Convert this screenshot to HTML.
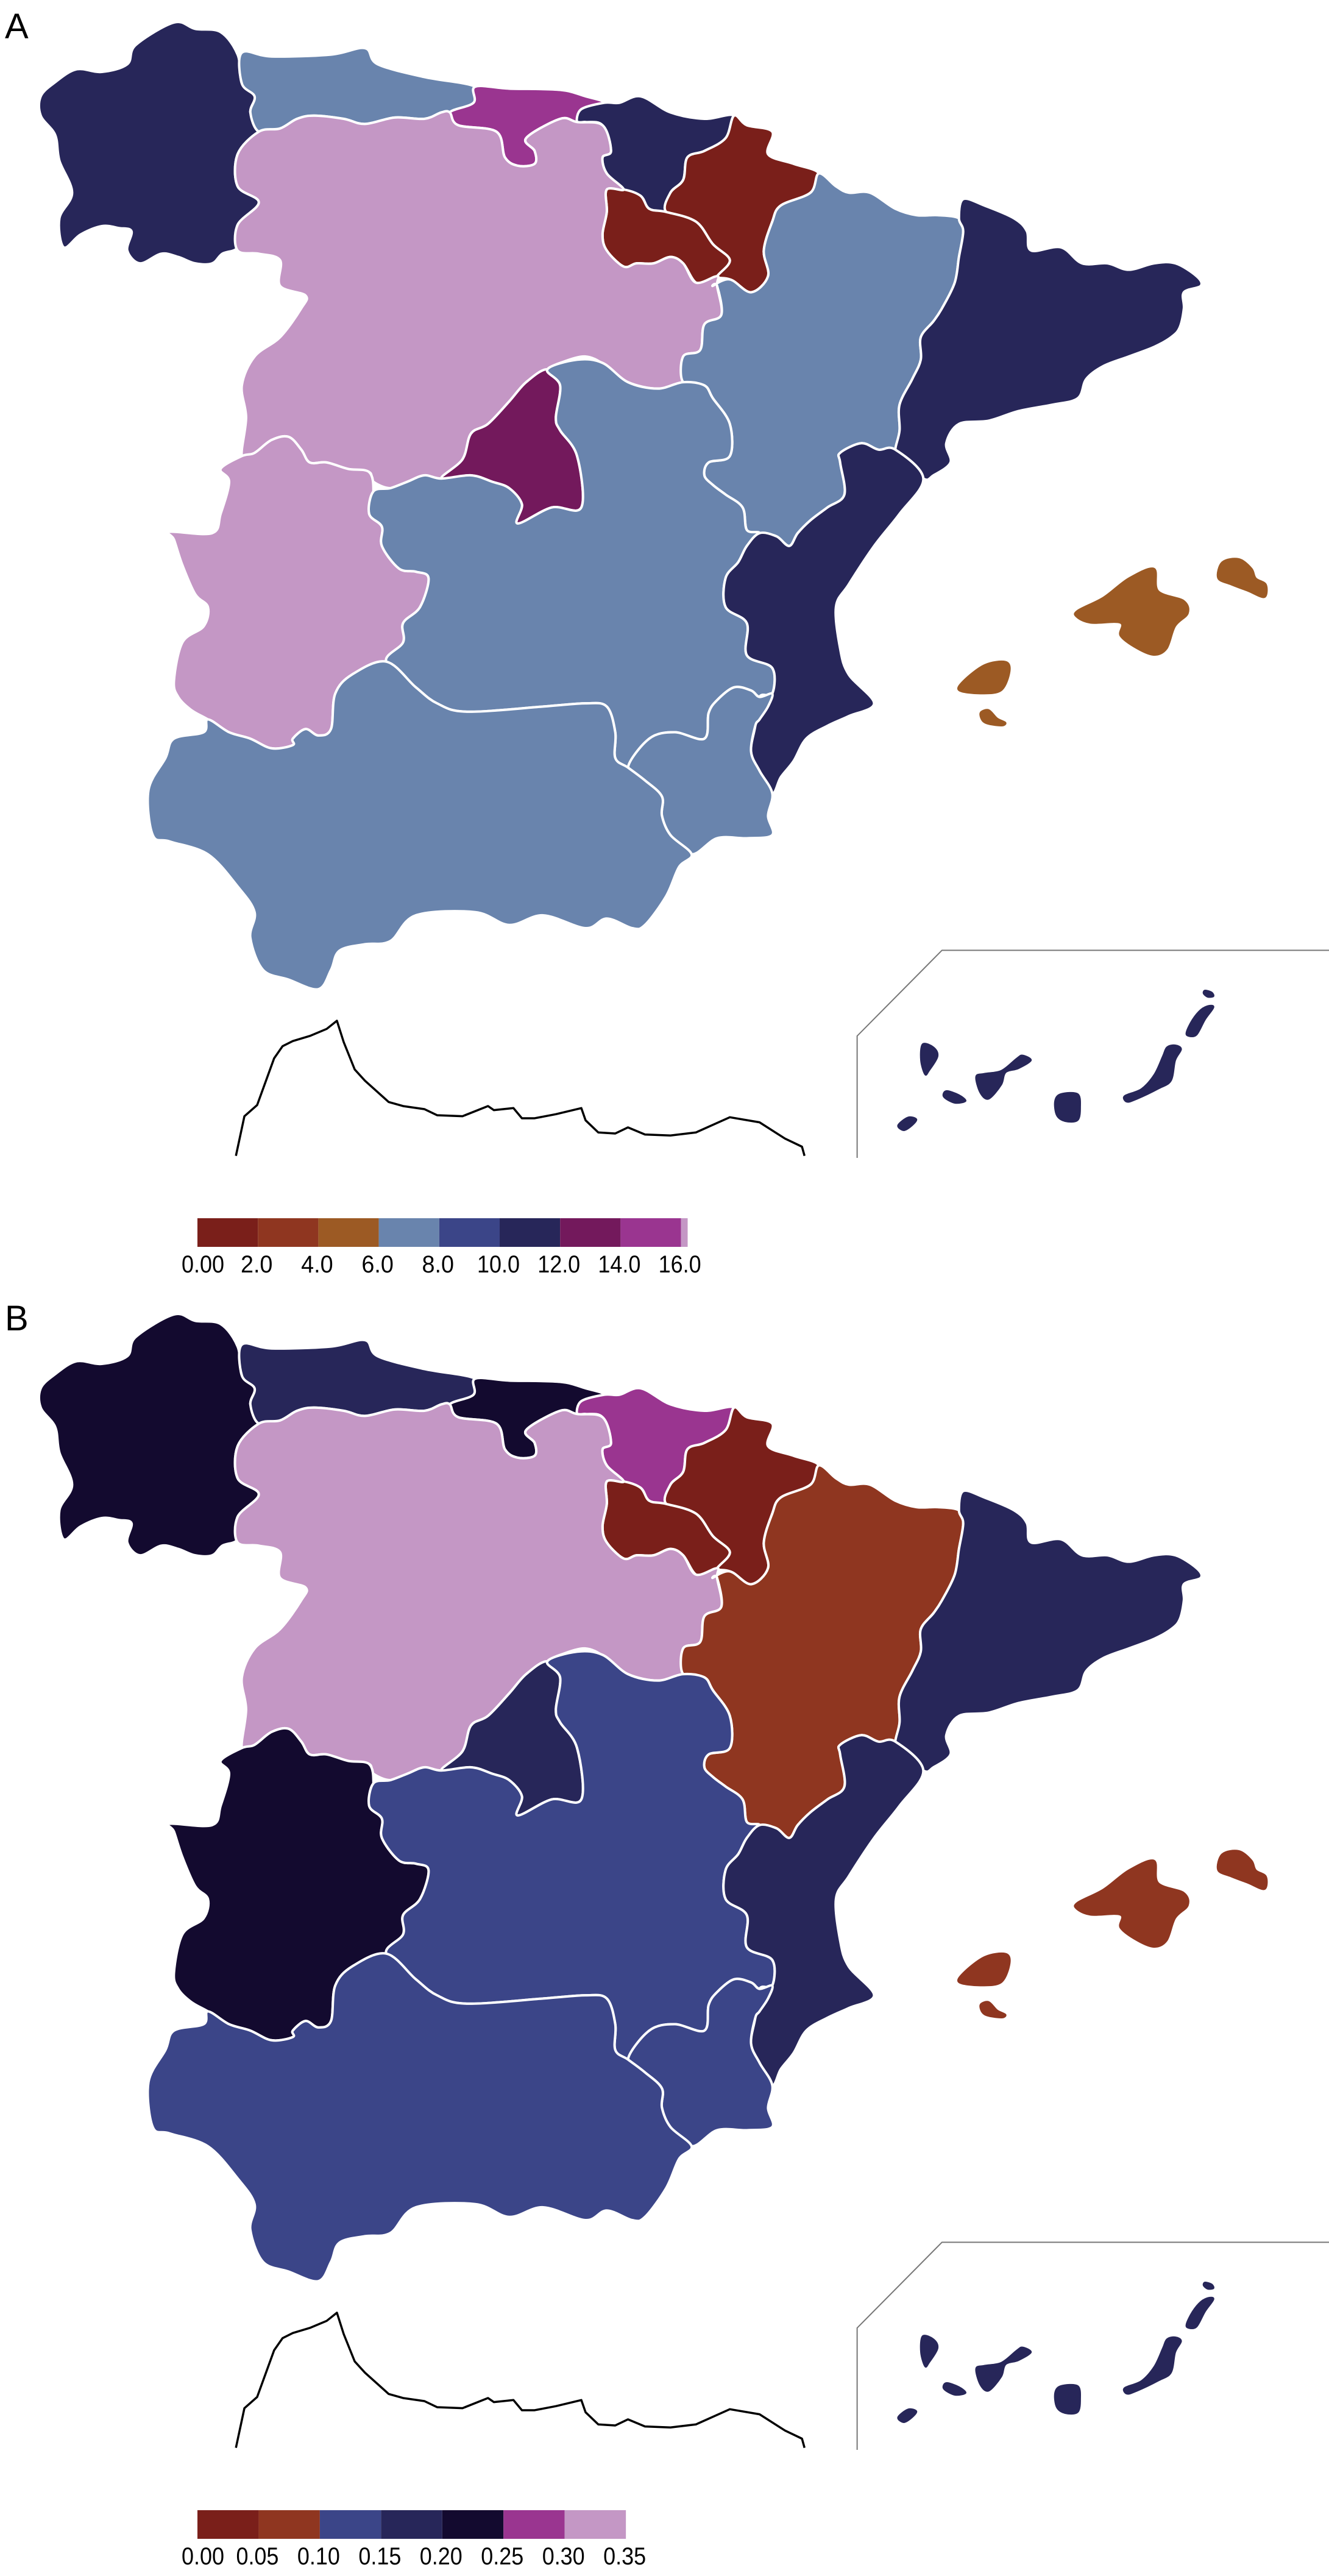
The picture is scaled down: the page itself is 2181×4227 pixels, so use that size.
<!DOCTYPE html>
<html><head><meta charset="utf-8"><style>
html,body{margin:0;padding:0;background:#fff;}
svg{display:block;}
text{font-family:"Liberation Sans",Arial,sans-serif;}
</style></head><body>
<svg id="fig" xmlns="http://www.w3.org/2000/svg" width="2181" height="4227" viewBox="0 0 2181 4227"></svg>
<script>
const regions=["galicia","asturias","cantabria","basque-country","navarra","la-rioja","castilla-y-leon","aragon","catalonia","madrid","extremadura","castilla-la-mancha","valencia","murcia","andalucia","balearic-islands","canary-islands"];
const valuesA=[11,7,15,11,1,1,16.5,7,11,13,16.5,7,11,7,7,5,11];
const valuesB=[0.22,0.17,0.22,0.28,0.02,0.02,0.33,0.07,0.17,0.17,0.22,0.12,0.17,0.12,0.12,0.07,0.17];
const breaksA=[0,2,4,6,8,10,12,14,16,16.22];
const colorsA=["#7a1f1a","#8f3620","#9c5a24","#6984ad","#3b4588","#272659","#73195c","#9a3590","#c497c5"];
const tickLabelsA=["0.00","2.0","4.0","6.0","8.0","10.0","12.0","14.0","16.0"];
const breaksB=[0,0.05,0.10,0.15,0.20,0.25,0.30,0.35];
const colorsB=["#7a1f1a","#8f3620","#3b4588","#272659","#130a2f","#9a3590","#c497c5"];
const tickLabelsB=["0.00","0.05","0.10","0.15","0.20","0.25","0.30","0.35"];

const shapes={
galicia:[48,150,65,128,90,108,120,112,150,100,160,70,205,35,230,45,260,50,280,85,285,130,300,150,295,175,305,205,280,240,280,290,305,315,280,350,280,385,262,395,250,410,230,410,210,400,190,395,165,410,150,390,155,360,140,355,120,352,95,365,75,385,70,340,85,300,70,250,65,210,48,180],
asturias:[285,82,320,88,390,85,430,75,445,100,500,120,560,135,558,160,530,175,520,175,500,185,465,183,430,193,405,185,370,180,350,185,330,200,305,205,295,175,300,150,285,130],
cantabria:[560,135,600,138,660,140,690,150,712,160,685,170,680,190,660,185,620,215,630,235,630,255,610,258,595,245,585,205,540,195,530,175,558,160],
"basque-country":[712,160,730,160,755,150,790,175,830,185,865,180,855,215,830,235,810,245,805,280,790,300,785,330,765,325,755,305,735,295,715,270,710,245,720,235,710,195,690,190,680,190,685,170],
navarra:[865,180,880,195,910,205,905,240,935,255,965,270,955,300,920,320,910,345,900,390,905,430,885,455,860,435,845,430,860,405,840,380,820,345,785,330,790,300,805,280,810,245,830,235,855,215],
"la-rioja":[715,295,735,295,755,305,765,325,785,330,820,345,840,380,860,405,845,430,840,445,820,440,805,410,790,400,770,410,750,410,735,415,715,390,710,365,715,330],
"castilla-y-leon":[305,205,330,200,350,185,370,180,405,185,430,193,465,183,500,185,520,175,530,175,540,195,585,205,595,245,610,258,630,255,630,235,620,215,660,185,680,190,710,195,720,235,710,245,715,270,735,295,715,295,715,330,710,365,715,390,735,415,750,410,770,410,790,400,805,410,820,440,845,430,845,445,850,490,830,505,825,545,805,555,805,595,775,605,740,595,715,570,690,555,660,565,645,575,620,595,600,625,575,660,555,675,545,715,520,745,500,740,480,750,460,760,440,750,435,735,410,730,385,720,365,720,355,700,340,680,320,685,300,705,285,710,290,650,285,600,300,555,330,525,355,480,360,460,330,445,330,405,305,395,280,390,280,350,305,315,280,290,280,240],
aragon:[965,270,985,290,1000,300,1025,300,1055,325,1080,335,1105,335,1130,340,1135,360,1130,400,1125,440,1110,480,1100,500,1085,525,1085,560,1075,590,1060,630,1060,670,1055,700,1035,700,1015,690,990,705,990,720,995,770,975,790,955,810,940,830,930,850,915,835,895,830,880,825,875,790,855,770,840,755,830,740,835,720,860,710,860,660,840,620,830,600,805,595,805,555,825,545,830,505,850,490,845,445,840,445,860,435,885,455,905,430,900,390,910,345,920,320,955,300],
catalonia:[1130,340,1135,310,1160,320,1195,340,1210,360,1215,390,1250,385,1275,410,1305,410,1330,420,1360,410,1385,410,1410,430,1415,445,1395,455,1395,480,1390,510,1380,525,1360,540,1330,555,1300,570,1280,590,1270,620,1240,630,1200,640,1165,655,1130,660,1115,690,1120,720,1100,740,1088,745,1060,710,1055,700,1060,670,1060,630,1075,590,1085,560,1085,525,1100,500,1110,480,1125,440,1130,400,1135,360],
madrid:[645,575,660,600,655,650,660,670,680,710,685,790,650,790,610,815,615,785,600,760,580,750,555,740,520,745,545,715,555,675,575,660,600,625,620,595],
extremadura:[285,710,300,705,320,685,340,680,355,700,365,720,385,720,410,730,435,735,440,765,435,800,450,820,450,850,470,885,490,890,505,900,495,945,475,970,475,1000,455,1030,415,1050,395,1080,390,1135,375,1145,360,1135,345,1150,345,1160,320,1165,295,1150,270,1140,245,1120,225,1105,210,1085,205,1060,215,1000,240,975,245,945,230,925,215,880,205,840,200,828,250,830,260,800,270,750,260,730],
"castilla-la-mancha":[645,575,680,560,710,565,740,595,775,605,805,595,830,600,840,620,860,660,860,710,835,720,830,740,840,755,855,770,875,790,880,825,895,830,880,850,870,875,855,900,855,945,880,970,880,1020,910,1040,910,1080,895,1085,885,1075,865,1070,845,1090,835,1110,830,1150,795,1140,765,1150,740,1195,725,1180,725,1140,715,1100,690,1095,640,1100,550,1108,515,1095,490,1070,455,1030,475,1000,475,970,495,945,505,900,490,890,470,885,450,850,450,820,435,800,440,765,460,760,480,750,500,740,520,745,555,740,580,750,600,760,615,785,610,815,650,790,685,790,680,710,660,670,655,650,660,600],
valencia:[1055,700,1088,745,1060,800,1030,850,1000,910,985,945,990,1010,1000,1050,1030,1095,1000,1115,975,1130,950,1150,935,1185,920,1210,910,1235,895,1200,885,1170,890,1130,895,1085,910,1080,910,1040,880,1020,880,970,855,945,855,900,870,875,880,850,895,830,915,835,930,850,940,830,955,810,975,790,995,770,990,720,990,705,1015,690,1035,700],
murcia:[895,1085,910,1080,905,1100,895,1120,890,1130,885,1170,895,1200,910,1235,905,1270,910,1300,880,1305,845,1305,815,1330,790,1300,780,1270,780,1240,760,1215,740,1195,765,1150,795,1140,830,1150,835,1110,845,1090,865,1070,885,1075],
andalucia:[455,1030,490,1070,515,1095,550,1108,640,1100,690,1095,715,1100,725,1140,725,1180,740,1195,760,1215,780,1240,780,1270,790,1300,815,1330,800,1350,785,1395,760,1440,745,1445,715,1430,690,1445,640,1425,600,1440,560,1420,490,1425,460,1465,430,1470,400,1480,390,1510,375,1540,340,1525,310,1510,295,1460,300,1420,280,1380,245,1330,200,1310,180,1300,175,1230,195,1180,205,1150,240,1140,245,1120,270,1140,295,1150,320,1165,345,1160,345,1150,360,1135,375,1145,390,1135,395,1080,415,1050]
};
const balearic=[
[1270,950,1300,930,1330,900,1360,885,1365,920,1395,935,1400,955,1385,975,1375,1010,1360,1020,1340,1010,1320,990,1320,970,1285,970,1268,960],
[1440,875,1460,870,1475,885,1480,900,1492,910,1490,930,1470,920,1450,910,1435,900],
[1135,1060,1160,1035,1185,1030,1190,1045,1180,1075,1155,1080,1130,1075],
[1155,1110,1165,1105,1175,1118,1185,1125,1180,1130,1160,1125]];
const canary=[
[1087,640,1100,655,1105,700,1095,770,1090,790,1085,720],
[1070,1000,1080,1010,1075,1040,1065,1065,1058,1040],
[1115,870,1130,890,1138,920,1125,930,1112,900],
[1205,695,1215,720,1200,760,1185,780,1180,840,1165,910,1155,880,1150,800,1160,785,1180,770,1198,710],
[1250,885,1270,885,1273,950,1270,1015,1255,1020,1245,990,1243,920],
[1385,645,1392,665,1385,720,1380,820,1365,860,1340,910,1328,925,1325,895,1345,860,1360,790,1370,700,1375,655],
[1400,600,1410,595,1420,520,1430,460,1425,450,1415,470,1405,520,1398,580],
[1420,375,1428,385,1430,405,1423,408,1418,390]];
const morocco=[278,1190,288,995,303,940,323,710,333,650,345,625,365,600,385,565,397,525,405,630,418,765,430,820,458,925,475,945,500,960,515,990,545,995,575,945,582,965,605,955,615,1005,630,1005,655,985,685,955,690,1015,705,1075,725,1080,740,1050,760,1085,790,1090,820,1075,860,1000,895,1025,925,1105,945,1145,948,1190];

const NS="http://www.w3.org/2000/svg";
const svg=document.getElementById('fig');
function el(tag,attrs,parent){const e=document.createElementNS(NS,tag);for(const k in attrs)e.setAttribute(k,attrs[k]);(parent||svg).appendChild(e);return e;}
function pts(a){let s=[];for(let i=0;i<a.length;i+=2)s.push(a[i]+','+a[i+1]);return s.join(' ');}
function smooth(a){
  const n=a.length/2;const P=i=>{i=(i+n)%n;return [a[2*i],a[2*i+1]];};
  let d='M'+a[0]+','+a[1];
  for(let i=0;i<n;i++){
    const p0=P(i-1),p1=P(i),p2=P(i+1),p3=P(i+2);
    const c1=[p1[0]+(p2[0]-p0[0])/6,p1[1]+(p2[1]-p0[1])/6];
    const c2=[p2[0]-(p3[0]-p1[0])/6,p2[1]-(p3[1]-p1[1])/6];
    d+='C'+c1[0].toFixed(1)+','+c1[1].toFixed(1)+' '+c2[0].toFixed(1)+','+c2[1].toFixed(1)+' '+p2[0]+','+p2[1];
  }
  return d+'Z';
}
function binColor(v,breaks,colors){for(let i=0;i<colors.length;i++){if(v>=breaks[i]&&v<breaks[i+1])return colors[i];}return colors[colors.length-1];}

function drawPanel(letter,dy,values,breaks,colors,ticks,legendScale){
  const panel=el('g',{transform:'translate(0,'+dy+')'});
  
  
  const lab=el('text',{x:8,y:63,'font-size':58,fill:'#000'},panel);lab.textContent=letter;
  
  
  const map=el('g',{transform:'scale(1.3927,1.054)'},panel);
  
  
  regions.forEach((r,i)=>{
    const c=binColor(values[i],breaks,colors);
    if(shapes[r]){
      const p=el('path',{d:smooth(shapes[r]),fill:c,stroke:'#fff','stroke-width':4,'stroke-linejoin':'round','vector-effect':'non-scaling-stroke'},map);
      
      
    }else if(r==='balearic-islands'){
      balearic.forEach(b=>{const p=el('path',{d:smooth(b),fill:c,stroke:c,'stroke-width':2,'vector-effect':'non-scaling-stroke'},map);
        
        });
    }
  });
  const low=el('g',{transform:'translate(0,1500) scale(1.3927,0.3333)'},panel);
  
  
  const ml=el('polyline',{points:pts(morocco),fill:'none',stroke:'#000','stroke-width':3.5,'stroke-linejoin':'round','vector-effect':'non-scaling-stroke'},low);
  
  
  const fr=el('polyline',{points:pts([1010,1200,1010,600,1110,178,1570,178]),fill:'none',stroke:'#777','stroke-width':2,'vector-effect':'non-scaling-stroke'},low);
  
  
  const ci=regions.indexOf('canary-islands');
  const cc=binColor(values[ci],breaks,colors);
  canary.forEach(b=>{const p=el('path',{d:smooth(b),fill:cc,stroke:cc,'stroke-width':2,'vector-effect':'non-scaling-stroke'},low);
    
    });
  const lg=el('g',{},panel);
  
  
  for(let i=0;i<colors.length;i++){
    const x0=legendScale(breaks[i]),x1=legendScale(breaks[i+1]===undefined?breaks[i]:breaks[i+1]);
    const r=el('rect',{x:x0,y:1999,width:Math.max(0,x1-x0),height:47,fill:colors[i]},lg);
    
    
  }
  ticks.forEach((t,i)=>{
    const w=t.length*17.5;
    const tx=el('text',{x:Math.max(legendScale(breaks[i])-2,333),y:2088,'font-size':40,'text-anchor':'middle',textLength:w,lengthAdjust:'spacingAndGlyphs',fill:'#000'},lg);
    tx.textContent=t;
    
    
  });
}
drawPanel('A',0,valuesA,breaksA,colorsA,tickLabelsA,v=>324+v*49.6);
drawPanel('B',2120,valuesB,breaksB,colorsB,tickLabelsB,v=>324+v*2009);
</script>
</body></html>
